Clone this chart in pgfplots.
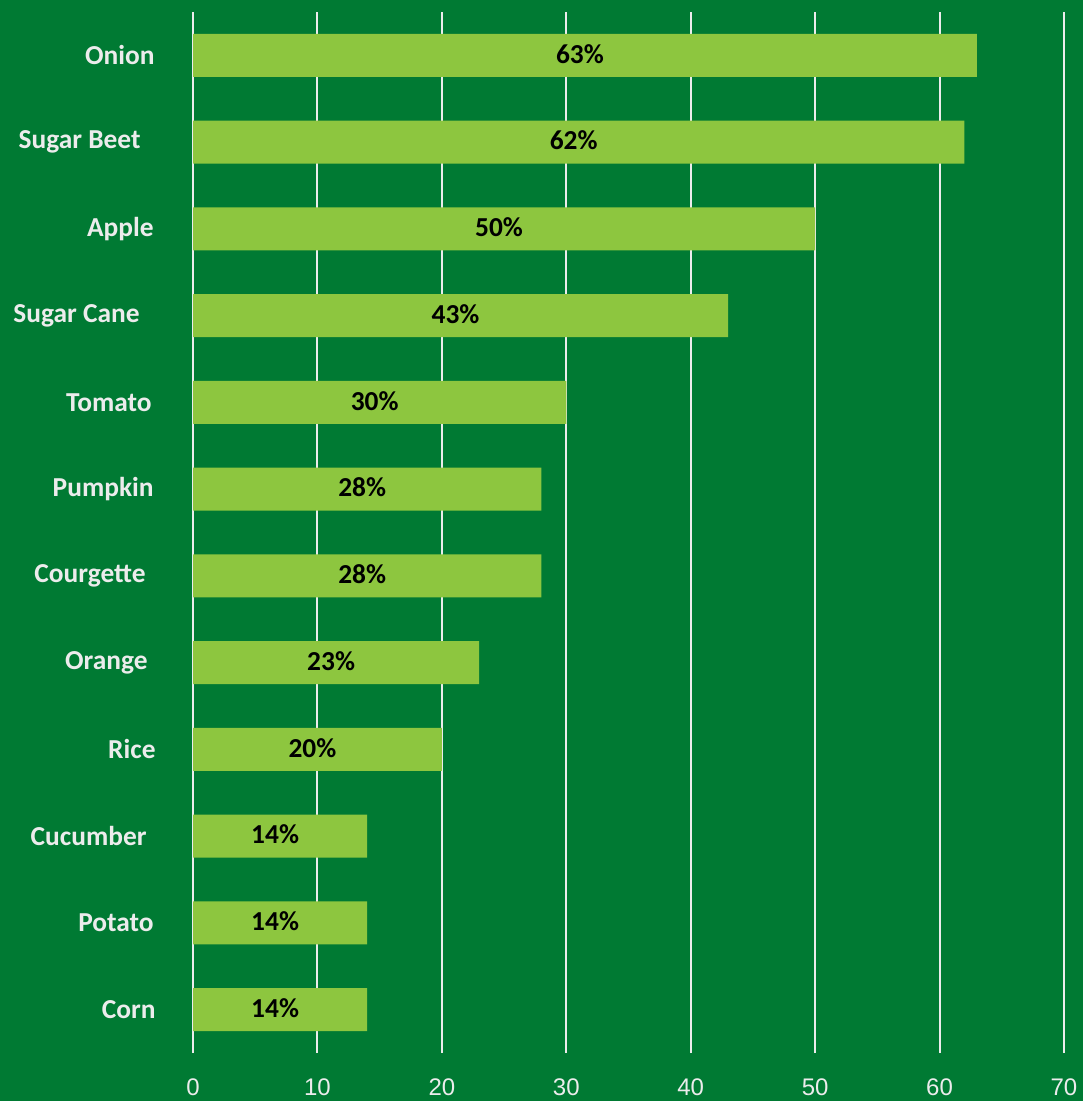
\documentclass[border=0pt]{standalone}
\usepackage{fontspec}
\setmainfont{Carlito}
\newfontfamily\arialf{Liberation Sans}
\usepackage{pgfplots}
\pgfplotsset{compat=1.18}
\usepackage{pgfplotstable}
\definecolor{bg}{RGB}{0,122,51}
\definecolor{barc}{RGB}{141,198,63}
\definecolor{lbl}{RGB}{236,236,236}
\pgfplotstableread{
y v
0 14
1 14
2 14
3 20
4 23
5 28
6 28
7 30
8 43
9 50
10 62
11 63
}\data
\begin{document}
\begin{tikzpicture}[x=1pt,y=1pt]
\useasboundingbox (0,0) rectangle (541.5,550.5);
\fill[bg] (0,0) rectangle (541.5,550.5);
\begin{axis}[
  at={(96.5pt,24pt)}, anchor=south west,
  scale only axis, width=435.5pt, height=520.5pt,
  xmin=0, xmax=70, ymin=-0.5, ymax=11.5,
  axis line style={draw=none},
  major tick length=0pt,
  xmajorgrids, grid style={draw=lbl, line width=1pt},
  xtick={0,10,...,70},
  ytick={0,...,11},
  yticklabels={Corn,Potato\kern1pt,Cucumber\kern4.5pt,Rice,Orange\kern4pt,Courgette\kern5pt,Pumpkin\kern1pt,Tomato\kern2pt,Sugar Cane\kern8pt,Apple\kern1pt,Sugar Beet\kern7.5pt,Onion\kern0.5pt},
  yticklabel style={font=\bfseries\fontsize{13.7}{16}\selectfont, text=lbl, anchor=east, inner sep=0pt, xshift=-18.5pt},
  xticklabel style={font=\arialf\fontsize{12}{14}\selectfont, text=lbl, anchor=north, inner sep=0pt, yshift=-12.5pt},
  /pgf/number format/assume math mode=true,
]
\addplot[xbar, bar width=21.5pt, fill=barc, draw=none] table[x=v,y=y]{\data};
\addplot[draw=none, mark=none, nodes near coords={\pgfmathprintnumber{\pgfplotspointmeta}\%}, point meta=explicit,
  every node near coord/.style={font=\bfseries\fontsize{13.7}{16}\selectfont, text=black, anchor=center, xshift=-2.5pt, yshift=0.8pt}]
  table[x expr=\thisrow{v}/2, y=y, meta=v]{\data};
\end{axis}
\end{tikzpicture}
\end{document}
